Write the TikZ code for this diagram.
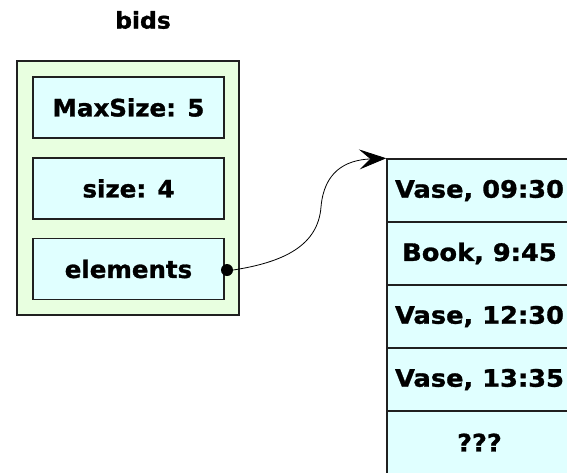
\documentclass[tikz,border=0pt]{standalone}
\usepackage{fontspec}
\newfontfamily\boxfont{DejaVu Sans}[FakeStretch=1.02, FakeBold=1.2]
\newfontfamily\rowfont{DejaVu Sans}[FakeStretch=1.07, FakeBold=1.2]
\usetikzlibrary{arrows.meta}
\definecolor{shellgreen}{HTML}{E8FFE0}
\definecolor{cellcyan}{HTML}{E0FFFF}
\definecolor{edgegray}{HTML}{202020}
\tikzset{
  shell/.style={draw=edgegray, line width=1.5pt, fill=shellgreen, rectangle,
    minimum width=222pt, minimum height=254pt, inner sep=0pt},
  field/.style={draw=edgegray, line width=1.5pt, fill=cellcyan, rectangle,
    minimum width=191pt, minimum height=61pt, inner sep=0pt,
    font=\boxfont\bfseries\fontsize{24}{26}\selectfont},
  slot/.style={draw=edgegray, line width=1.5pt, fill=cellcyan, rectangle,
    minimum width=185pt, minimum height=63pt, inner sep=0pt,
    font=\rowfont\bfseries\fontsize{24}{26}\selectfont},
  label/.style={font=\boxfont\bfseries\fontsize{23}{26}\selectfont, inner sep=0pt},
  pointer/.style={fill=black, circle, minimum size=12pt, inner sep=0pt},
  link/.style={line width=0.8pt, -{Stealth[length=27pt,width=20pt,inset=11pt]}}
}
\begin{document}
\begin{tikzpicture}[x=1pt,y=-1pt]
\useasboundingbox (0,0) rectangle (567,472);

% the bids record
\node[label] (title) at (143,20) {bids};
\node[shell] (record) at (128,188) {};
\node[field] (maxsize) at (128.5,107.5) {MaxSize: 5};
\node[field] (size) at (128.5,188.5) {size: 4};
\node[field] (elements) at (128.5,269) {elements};
\node[pointer] (dot) at (227,270) {};

% the array of elements
\node[slot] (r1) at (479.5,190.5) {Vase, 09:30};
\node[slot] (r2) at (479.5,253.5) {Book, 9:45};
\node[slot] (r3) at (479.5,316.5) {Vase, 12:30};
\node[slot] (r4) at (479.5,379.5) {Vase, 13:35};
\node[slot] (r5) at (479.5,442.5) {???};

% reference from elements to the array
\coordinate (bend) at (321,207);
\draw[link] (dot.east) .. controls (285,262) and (318,245) .. (bend)
  .. controls (324,172) and (345,160) .. (r1.north west);
\end{tikzpicture}
\end{document}
